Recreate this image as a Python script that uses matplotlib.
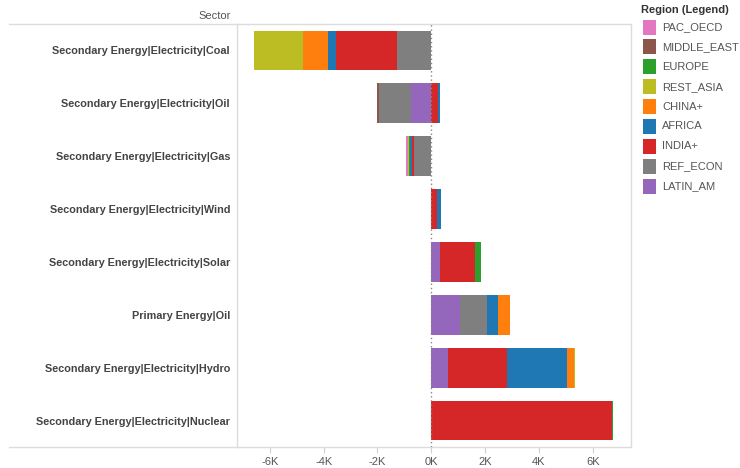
import matplotlib
matplotlib.use("Agg")
import matplotlib.pyplot as plt
from matplotlib.lines import Line2D
from matplotlib.patches import Rectangle
from matplotlib.ticker import FuncFormatter

plt.rcParams["font.family"] = ["Liberation Sans", "DejaVu Sans"]

# sectors, top to bottom
sectors = [
    "Secondary Energy|Electricity|Coal",
    "Secondary Energy|Electricity|Oil",
    "Secondary Energy|Electricity|Gas",
    "Secondary Energy|Electricity|Wind",
    "Secondary Energy|Electricity|Solar",
    "Primary Energy|Oil",
    "Secondary Energy|Electricity|Hydro",
    "Secondary Energy|Electricity|Nuclear",
]

# values per region, same order as sectors
latin_am = [-30, -770, 0, 0, 330, 1060, 620, 0]
ref_econ = [-1230, -1190, -630, 0, 0, 1000, 0, 0]
india = [-2280, 250, -90, 220, 1280, 0, 2190, 6700]
africa = [-300, 70, -60, 150, 0, 410, 2240, 0]
europe = [0, 0, -40, 0, 220, 0, 0, 60]
china = [-930, 0, 0, 0, 0, 440, 250, 0]
rest_asia = [-1810, 0, -40, 0, 0, 0, 50, 0]
middle_east = [0, -70, 0, 0, 0, 0, 0, 0]
pac_oecd = [0, 0, -70, 0, 0, 0, 0, 0]

# stacking order outward from zero
stack = [
    ("LATIN_AM", latin_am, "#9467bd"),
    ("REF_ECON", ref_econ, "#7f7f7f"),
    ("INDIA+", india, "#d62728"),
    ("AFRICA", africa, "#1f77b4"),
    ("EUROPE", europe, "#2ca02c"),
    ("CHINA+", china, "#ff7f0e"),
    ("REST_ASIA", rest_asia, "#bcbd22"),
    ("MIDDLE_EAST", middle_east, "#8c564b"),
    ("PAC_OECD", pac_oecd, "#e377c2"),
]

legend_order = ["PAC_OECD", "MIDDLE_EAST", "EUROPE", "REST_ASIA", "CHINA+",
                "AFRICA", "INDIA+", "REF_ECON", "LATIN_AM"]

W, H = 740, 468
fig = plt.figure(figsize=(W / 100, H / 100), dpi=100)


def fx(px):
    return px / W


def fy(py):
    return 1 - py / H


ax = fig.add_axes([fx(237), fy(447), fx(631) - fx(237), fy(24) - fy(447)])

pos = [0.0] * len(sectors)
neg = [0.0] * len(sectors)
ys = list(range(len(sectors)))
for name, vals, color in stack:
    lefts = []
    for i, v in enumerate(vals):
        if v >= 0:
            lefts.append(pos[i])
            pos[i] += v
        else:
            lefts.append(neg[i])
            neg[i] += v
    ax.barh(ys, vals, left=lefts, height=0.75, color=color, linewidth=0)

ax.axvline(0, color="#888888", linestyle=(0, (1, 2)), linewidth=1, zorder=3)

ax.set_ylim(len(sectors) - 0.5, -0.5)
ax.set_xlim(-7220, 7420)
ax.set_yticks(ys)
ax.set_yticklabels(sectors, fontsize=7.85, fontweight="bold", color="#444444")
ax.tick_params(axis="y", length=0, pad=5)
ax.set_xticks([-6000, -4000, -2000, 0, 2000, 4000, 6000])
ax.xaxis.set_major_formatter(FuncFormatter(lambda v, p: f"{int(v / 1000)}K"))
ax.tick_params(axis="x", length=4, color="#d0d0d0", labelsize=8,
               labelcolor="#555555", pad=3)

for side in ["left", "right", "top", "bottom"]:
    ax.spines[side].set_color("#dcdcdc")
    ax.spines[side].set_linewidth(1)

# header rules spanning the label column
for py in [24, 447]:
    fig.add_artist(Line2D([fx(9), fx(237)], [fy(py), fy(py)],
                          color="#dcdcdc", linewidth=1))
fig.text(fx(231), fy(16), "Sector", ha="right", va="center",
         fontsize=8, color="#555555")

# legend
colors = {name: color for name, _, color in stack}
fig.text(fx(641), fy(10), "Region (Legend)", ha="left", va="center",
         fontsize=8, fontweight="bold", color="#333333")
for k, name in enumerate(legend_order):
    cy = 27 + 19.9 * k
    fig.add_artist(Rectangle((fx(643), fy(cy + 7.5)), fx(13), 15 / H,
                             facecolor=colors[name], edgecolor="none"))
    fig.text(fx(662), fy(cy), name, ha="left", va="center",
             fontsize=8, color="#555555")

fig.savefig("out.png", dpi=100)
